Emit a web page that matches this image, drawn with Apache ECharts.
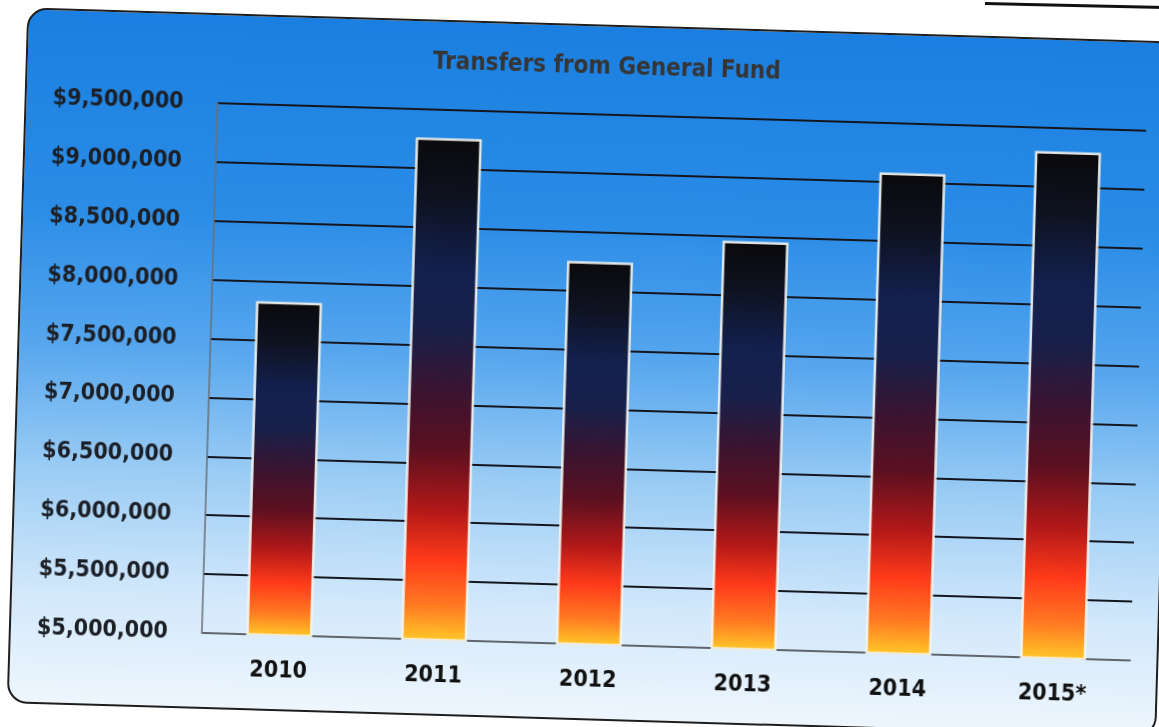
<!DOCTYPE html>
<html>
<head>
<meta charset="utf-8">
<script src="https://cdn.jsdelivr.net/npm/echarts@6/dist/echarts.min.js"></script>
<style>
  html, body { margin: 0; padding: 0; background: #ffffff; width: 1159px; height: 727px; overflow: hidden; }
  #page { position: absolute; left: 0; top: 0; width: 1159px; height: 727px; transform: rotate(1.7deg); transform-origin: 579.5px 363.5px; }
  #panel { position: absolute; left: 17px; top: 24px; width: 1146px; height: 692px; border: 2px solid #1e1e1e; border-radius: 20px;
           background: linear-gradient(to bottom, #1a7fe0 0%, #2a8ce6 28%, #56a6ee 48%, #9accf4 66%, #d2e8fb 84%, #eef6fd 100%); }
  #chart { position: absolute; left: 0; top: 0; width: 1159px; height: 727px; }
  #edge { position: absolute; left: 985px; top: 2px; width: 180px; height: 3px; background: #111; transform: rotate(1.3deg); transform-origin: 0 0; }
</style>
</head>
<body>
<div id="edge"></div>
<div id="page">
  <div id="panel"></div>
  <div id="chart"></div>
</div>
<script>
// Fiscal years and transfer amounts (dollars)
const years = ['2010', '2011', '2012', '2013', '2014', '2015*'];
const transfers = [7830000, 9260000, 8250000, 8460000, 9080000, 9300000];
// Value axis range
const yMin = 5000000;
const yMax = 9500000;
const yStep = 500000;

const labelFont = '"DejaVu Sans Condensed", "DejaVu Sans", Lato, sans-serif';

const chart = echarts.init(document.getElementById('chart'), null, { renderer: 'canvas' });

const barFill = new echarts.graphic.LinearGradient(0, 0, 0, 1, [
  { offset: 0.00, color: '#0a0a0c' },
  { offset: 0.12, color: '#0e1220' },
  { offset: 0.26, color: '#13204e' },
  { offset: 0.38, color: '#18204a' },
  { offset: 0.50, color: '#3a1430' },
  { offset: 0.62, color: '#5c1020' },
  { offset: 0.74, color: '#b21818' },
  { offset: 0.84, color: '#ff3a1a' },
  { offset: 0.93, color: '#ff7a22' },
  { offset: 1.00, color: '#ffc828' }
]);

chart.setOption({
  backgroundColor: 'transparent',
  animation: false,
  title: {
    text: 'Transfers from General Fund',
    left: 593, top: 50, textAlign: 'center',
    textStyle: { fontFamily: labelFont, fontWeight: 'bold', fontSize: 24, color: '#353535' }
  },
  grid: { left: 210, right: 20, top: 114, bottom: 83 },
  xAxis: {
    type: 'category',
    data: years,
    axisLine: { show: true, lineStyle: { color: '#7a7f86', width: 1.5 } },
    axisTick: { show: false },
    axisLabel: { margin: 25, fontFamily: labelFont, fontWeight: 'bold', fontSize: 23, color: '#111111' }
  },
  yAxis: {
    type: 'value',
    min: yMin, max: yMax, interval: yStep,
    axisLine: { show: true, lineStyle: { color: '#6a6f76', width: 1.5 } },
    axisTick: { show: false },
    splitLine: { lineStyle: { color: '#14161f', width: 2 } },
    axisLabel: {
      margin: 34, fontFamily: labelFont, fontWeight: 'bold', fontSize: 23, color: '#1c1f26',
      formatter: v => '$' + v.toLocaleString('en-US')
    }
  },
  series: [{
    type: 'bar',
    data: transfers,
    barWidth: 66,
    itemStyle: {
      color: barFill,
      borderColor: 'rgba(245,245,240,0.9)',
      borderWidth: 2.5
    },
    z: 3
  }]
});
</script>
</body>
</html>
